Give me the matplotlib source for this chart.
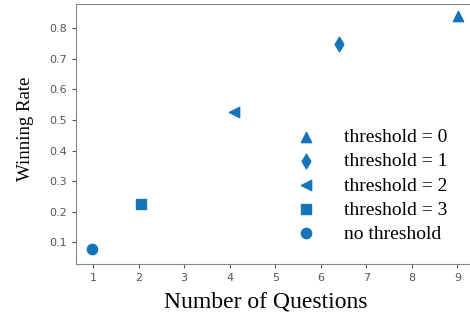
import matplotlib.pyplot as plt

labels = ['threshold = 0', 'threshold = 1', 'threshold = 2', 'threshold = 3', 'no threshold']
num_questions = [9.02, 6.4, 4.1, 2.05, 0.97]
winning_rate = [0.842, 0.75, 0.525, 0.226, 0.077]
markers = ['^', 'd', '<', 's', 'o']

color = '#1874b8'
serif = ['Liberation Serif', 'DejaVu Serif']

fig = plt.figure(figsize=(4.7, 3.15), dpi=100)
ax = fig.add_axes([0.162, 0.162, 0.852, 0.825])

for x, y, m, lab in zip(num_questions, winning_rate, markers, labels):
    ax.scatter([x], [y], marker=m, s=55, color=color, label=lab)

ax.set_xlim(0.63, 9.42)
ax.set_ylim(0.028, 0.88)
ax.set_xticks(range(1, 10))
ax.set_yticks([0.1, 0.2, 0.3, 0.4, 0.5, 0.6, 0.7, 0.8])
ax.tick_params(colors='#555555', labelsize=8, length=3)
for s in ax.spines.values():
    s.set_color('#888888')

ax.set_xlabel('Number of Questions', fontsize=17, family=serif)
ax.set_ylabel('Winning Rate', fontsize=13.5, family=serif)
ax.xaxis.set_label_coords(0.4725, -0.107)
ax.yaxis.set_label_coords(-0.105, 0.521)
ax.legend(frameon=False, prop={'family': serif, 'size': 14}, loc='lower right',
          bbox_to_anchor=(0.97, 0.015), handletextpad=0.95, labelspacing=0.33)

fig.savefig('out.png', dpi=100)
